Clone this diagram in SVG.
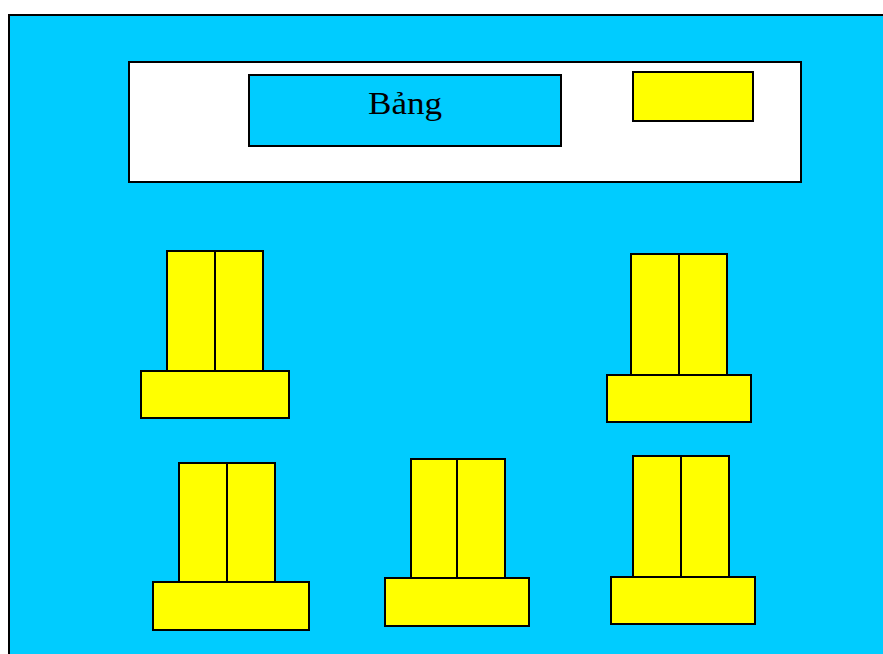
<svg xmlns="http://www.w3.org/2000/svg" width="883" height="654" viewBox="0 0 883 654">
<style>
.bg{fill:#00CCFF;stroke:#000;stroke-width:2}
.w{fill:#FFFFFF;stroke:#000;stroke-width:2}
.y{fill:#FFFF00;stroke:#000;stroke-width:2}
.ln{stroke:#000;stroke-width:2}
.t{font-family:"Liberation Serif",serif;font-size:31px;fill:#000}
</style>
<rect width="883" height="654" fill="#FFFFFF"/>
<g id="room"><rect class="bg" x="9" y="15" width="890" height="660"/></g>
<g id="board-area">
<rect class="w" x="129" y="62" width="672" height="120"/>
</g>
<g id="board">
<rect class="bg" x="249" y="75" width="312" height="71"/>
<text class="t" x="368" y="114" textLength="74" lengthAdjust="spacingAndGlyphs">Bảng</text>
</g>
<g id="teacher-desk"><rect class="y" x="633" y="72" width="120" height="49"/></g>
<g id="desk1">
<rect class="y" x="167" y="251" width="96" height="120"/>
<line class="ln" x1="215" y1="251" x2="215" y2="371"/>
<rect class="y" x="141" y="371" width="148" height="47"/>
</g>
<g id="desk2">
<rect class="y" x="631" y="254" width="96" height="121"/>
<line class="ln" x1="679" y1="254" x2="679" y2="375"/>
<rect class="y" x="607" y="375" width="144" height="47"/>
</g>
<g id="desk3">
<rect class="y" x="179" y="463" width="96" height="119"/>
<line class="ln" x1="227" y1="463" x2="227" y2="582"/>
<rect class="y" x="153" y="582" width="156" height="48"/>
</g>
<g id="desk4">
<rect class="y" x="411" y="459" width="94" height="119"/>
<line class="ln" x1="457" y1="459" x2="457" y2="578"/>
<rect class="y" x="385" y="578" width="144" height="48"/>
</g>
<g id="desk5">
<rect class="y" x="633" y="456" width="96" height="121"/>
<line class="ln" x1="681" y1="456" x2="681" y2="577"/>
<rect class="y" x="611" y="577" width="144" height="47"/>
</g>
<g id="connectors"/>
</svg>
